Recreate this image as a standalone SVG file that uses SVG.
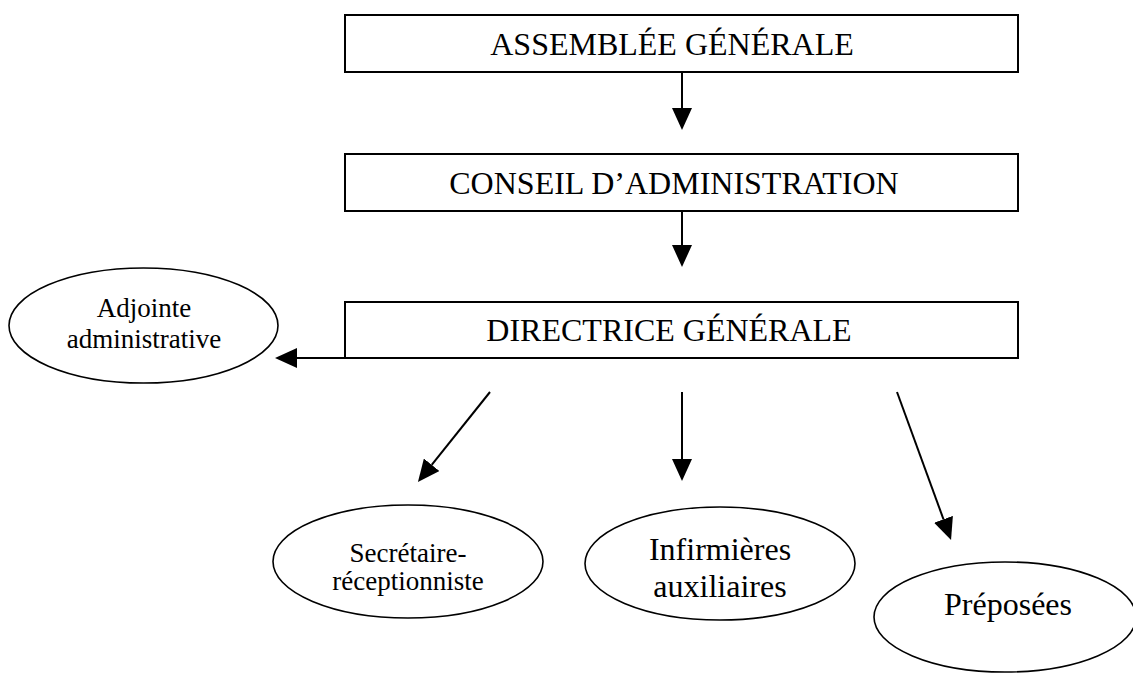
<svg xmlns="http://www.w3.org/2000/svg" width="1133" height="673" viewBox="0 0 1133 673">
<style>
.box{fill:#fff;stroke:#000;stroke-width:2}
.ell{fill:#fff;stroke:#000;stroke-width:1.6}
.big{font-family:"Liberation Serif","Times New Roman",serif;font-size:32px;fill:#000;text-anchor:middle}
.sm{font-family:"Liberation Serif","Times New Roman",serif;font-size:27px;fill:#000;text-anchor:middle}
.conn line{stroke:#000;stroke-width:2;marker-end:url(#ah)}
</style>
<defs>
<marker id="ah" markerUnits="userSpaceOnUse" markerWidth="22" markerHeight="20" refX="0" refY="10" orient="auto" viewBox="0 0 22 20">
<path d="M0,0 L22,10 L0,20 Z" fill="#000"/>
</marker>
</defs>
<rect width="1133" height="673" fill="#fff"/>
<g id="assemblee">
<rect class="box" x="345" y="15" width="673" height="57"/>
<text class="big" x="672" y="55">ASSEMBLÉE GÉNÉRALE</text>
</g>
<g id="conseil">
<rect class="box" x="345" y="154" width="673" height="57"/>
<text class="big" x="674" y="194">CONSEIL D’ADMINISTRATION</text>
</g>
<g id="directrice">
<rect class="box" x="345" y="302" width="673" height="56"/>
<text class="big" x="669" y="341">DIRECTRICE GÉNÉRALE</text>
</g>
<g id="adjointe">
<ellipse class="ell" cx="143.5" cy="325.5" rx="134.5" ry="57.5"/>
<text class="sm" x="144" y="317">Adjointe</text>
<text class="sm" x="144" y="348">administrative</text>
</g>
<g id="secretaire">
<ellipse class="ell" cx="408" cy="561.5" rx="135" ry="56.5"/>
<text class="sm" x="408" y="562">Secrétaire-</text>
<text class="sm" x="408" y="590">réceptionniste</text>
</g>
<g id="infirmieres">
<ellipse class="ell" cx="720" cy="563.5" rx="135" ry="56.5"/>
<text class="big" x="720" y="560">Infirmières</text>
<text class="big" x="720" y="597">auxiliaires</text>
</g>
<g id="preposees">
<ellipse class="ell" cx="1005" cy="617" rx="131" ry="55"/>
<text class="big" x="1008" y="615">Préposées</text>
</g>
<g id="connectors" class="conn">
<line x1="682" y1="72" x2="682" y2="108"/>
<line x1="682" y1="211" x2="682" y2="245"/>
<line x1="345" y1="358" x2="297" y2="358"/>
<line x1="490" y1="392" x2="431.7" y2="464.8"/>
<line x1="682" y1="392" x2="682" y2="459"/>
<line x1="897" y1="392" x2="943.5" y2="519.3"/>
</g>
</svg>
